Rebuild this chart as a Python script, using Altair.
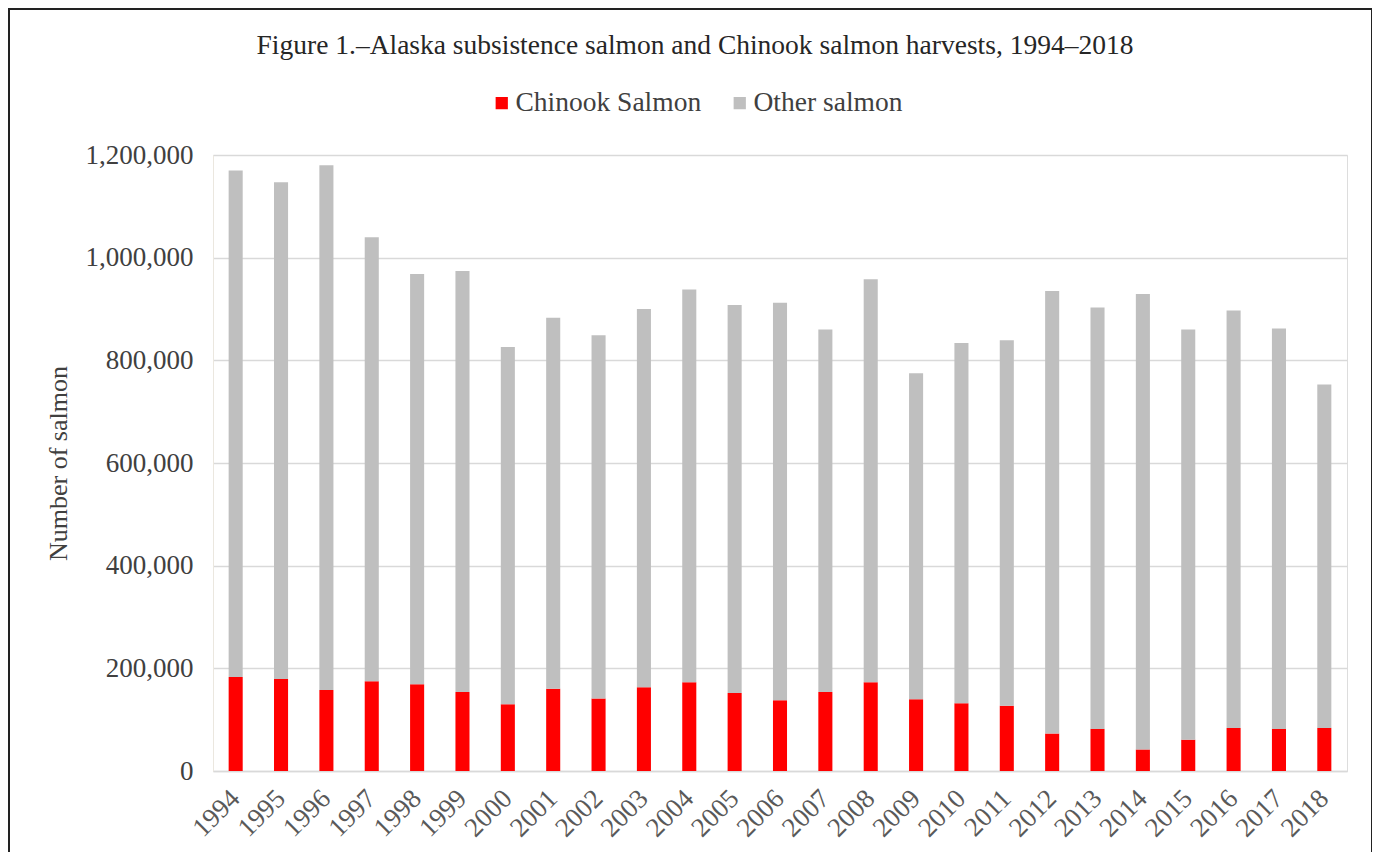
import altair as alt
import pandas as pd

years = [str(y) for y in range(1994, 2019)]
chinook = [183000, 179000, 158000, 175000, 169000, 154000, 130000, 160000, 141000, 163000,
           173000, 152000, 138000, 154000, 173000, 140000, 132000, 127000, 73000, 82000,
           42000, 61000, 84000, 82000, 84000]
other = [987000, 968000, 1022000, 865000, 799000, 820000, 696000, 723000, 708000, 737000,
         765000, 756000, 774000, 706000, 785000, 635000, 702000, 712000, 862000, 821000,
         887000, 799000, 813000, 780000, 669000]
series = ["Chinook Salmon", "Other salmon"]
colors = ["#FF0000", "#BFBFBF"]
y_ticks = [0, 200000, 400000, 600000, 800000, 1000000, 1200000]

rows = []
for i, yr in enumerate(years):
    rows.append({"year": yr, "series": series[0], "value": chinook[i], "ord": 0})
    rows.append({"year": yr, "series": series[1], "value": other[i], "ord": 1})
df = pd.DataFrame(rows)

FONT = "Liberation Serif"
W, H = 1134, 616

bars = alt.Chart(df).mark_bar().encode(
    x=alt.X("year:N", sort=years,
            scale=alt.Scale(paddingInner=0.69, paddingOuter=0.345),
            axis=alt.Axis(title=None, labelAngle=-45, labelAlign="right", labelBaseline="middle",
                          labelFont=FONT, labelFontSize=27, labelColor="#595959",
                          labelPadding=23, ticks=False, domainColor="#d9d9d9", domainWidth=1.5)),
    y=alt.Y("value:Q", stack="zero",
            scale=alt.Scale(domain=[0, 1200000], nice=False),
            axis=alt.Axis(title="Number of salmon", values=y_ticks, format=",d",
                          labelFont=FONT, labelFontSize=27, labelColor="#404040",
                          labelPadding=20, ticks=False, domainColor="#ebe7df", domainWidth=1,
                          gridColor="#d9d9d9", gridWidth=1.5,
                          titleFont=FONT, titleFontSize=26, titleFontWeight="normal",
                          titleColor="#404040", titlePadding=14)),
    color=alt.Color("series:N", scale=alt.Scale(domain=series, range=colors),
                    legend=alt.Legend(title=None, orient="none", direction="horizontal",
                                      legendX=275, legendY=-66,
                                      symbolType="square", symbolSize=150, symbolStrokeWidth=0,
                                      labelFont=FONT, labelFontSize=27.5, labelColor="#404040",
                                      labelLimit=400, labelOffset=0, columnPadding=24)),
    order=alt.Order("ord:Q", sort="ascending"),
)

frame = alt.Chart(alt.Data(values=[{"a": 1}])).mark_rect(
    filled=False, stroke="#222222", strokeWidth=2
).encode(
    x=alt.value(-204), x2=alt.value(1159), y=alt.value(-146), y2=alt.value(760)
)

chart = alt.layer(bars, frame).properties(
    width=W, height=H,
    padding={"left": 205, "top": 147, "right": 25, "bottom": 81},
    autosize=alt.AutoSizeParams(type="none"),
    title=alt.TitleParams(
        "Figure 1.–Alaska subsistence salmon and Chinook salmon harvests, 1994–2018",
        font=FONT, fontSize=27.5, fontWeight="normal", color="#262626",
        anchor="middle", dx=-85, offset=0, dy=51),
).configure_view(stroke=None).configure(background="white")

chart.save("out.html", embed_options={"renderer": "svg", "actions": False})
